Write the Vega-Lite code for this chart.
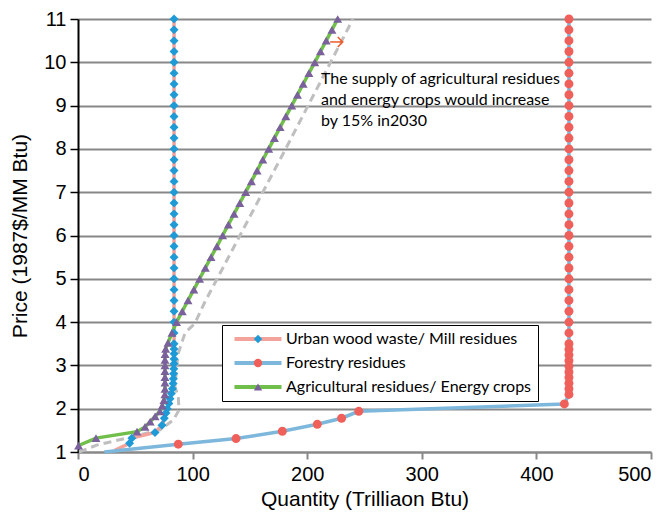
{
  "$schema": "https://vega.github.io/schema/vega-lite/v6.json",
  "width": 573,
  "height": 433,
  "autosize": {"type": "none"},
  "padding": {"left": 78, "top": 19, "right": 18, "bottom": 66},
  "background": "white",
  "config": {"view": {"stroke": null}},
  "datasets": {
    "curves": [
      {"series": "Urban wood waste/ Mill residues", "q": 32, "p": 1.04},
      {"series": "Urban wood waste/ Mill residues", "q": 45, "p": 1.2},
      {"series": "Urban wood waste/ Mill residues", "q": 47, "p": 1.32},
      {"series": "Urban wood waste/ Mill residues", "q": 67.2, "p": 1.45},
      {"series": "Urban wood waste/ Mill residues", "q": 73.3, "p": 1.62},
      {"series": "Urban wood waste/ Mill residues", "q": 75.3, "p": 1.78},
      {"series": "Urban wood waste/ Mill residues", "q": 76.8, "p": 1.9},
      {"series": "Urban wood waste/ Mill residues", "q": 77.8, "p": 2.0},
      {"series": "Urban wood waste/ Mill residues", "q": 79.3, "p": 2.12},
      {"series": "Urban wood waste/ Mill residues", "q": 80.3, "p": 2.23},
      {"series": "Urban wood waste/ Mill residues", "q": 81.5, "p": 2.35},
      {"series": "Urban wood waste/ Mill residues", "q": 82.4, "p": 2.46},
      {"series": "Urban wood waste/ Mill residues", "q": 83, "p": 2.58},
      {"series": "Urban wood waste/ Mill residues", "q": 83.2, "p": 2.69},
      {"series": "Urban wood waste/ Mill residues", "q": 83.4, "p": 2.81},
      {"series": "Urban wood waste/ Mill residues", "q": 83.6, "p": 2.92},
      {"series": "Urban wood waste/ Mill residues", "q": 83.8, "p": 3.04},
      {"series": "Urban wood waste/ Mill residues", "q": 83.8, "p": 3.15},
      {"series": "Urban wood waste/ Mill residues", "q": 83.8, "p": 3.27},
      {"series": "Urban wood waste/ Mill residues", "q": 83.8, "p": 3.38},
      {"series": "Urban wood waste/ Mill residues", "q": 83.8, "p": 3.5},
      {"series": "Urban wood waste/ Mill residues", "q": 83.8, "p": 3.75},
      {"series": "Urban wood waste/ Mill residues", "q": 83.8, "p": 4.0},
      {"series": "Urban wood waste/ Mill residues", "q": 83.8, "p": 4.25},
      {"series": "Urban wood waste/ Mill residues", "q": 83.8, "p": 4.5},
      {"series": "Urban wood waste/ Mill residues", "q": 83.8, "p": 4.75},
      {"series": "Urban wood waste/ Mill residues", "q": 83.8, "p": 5.0},
      {"series": "Urban wood waste/ Mill residues", "q": 83.8, "p": 5.25},
      {"series": "Urban wood waste/ Mill residues", "q": 83.8, "p": 5.5},
      {"series": "Urban wood waste/ Mill residues", "q": 83.8, "p": 5.75},
      {"series": "Urban wood waste/ Mill residues", "q": 83.8, "p": 6.0},
      {"series": "Urban wood waste/ Mill residues", "q": 83.8, "p": 6.25},
      {"series": "Urban wood waste/ Mill residues", "q": 83.8, "p": 6.5},
      {"series": "Urban wood waste/ Mill residues", "q": 83.8, "p": 6.75},
      {"series": "Urban wood waste/ Mill residues", "q": 83.8, "p": 7.0},
      {"series": "Urban wood waste/ Mill residues", "q": 83.8, "p": 7.25},
      {"series": "Urban wood waste/ Mill residues", "q": 83.8, "p": 7.5},
      {"series": "Urban wood waste/ Mill residues", "q": 83.8, "p": 7.75},
      {"series": "Urban wood waste/ Mill residues", "q": 83.8, "p": 8.0},
      {"series": "Urban wood waste/ Mill residues", "q": 83.8, "p": 8.25},
      {"series": "Urban wood waste/ Mill residues", "q": 83.8, "p": 8.5},
      {"series": "Urban wood waste/ Mill residues", "q": 83.8, "p": 8.75},
      {"series": "Urban wood waste/ Mill residues", "q": 83.8, "p": 9.0},
      {"series": "Urban wood waste/ Mill residues", "q": 83.8, "p": 9.25},
      {"series": "Urban wood waste/ Mill residues", "q": 83.8, "p": 9.5},
      {"series": "Urban wood waste/ Mill residues", "q": 83.8, "p": 9.75},
      {"series": "Urban wood waste/ Mill residues", "q": 83.8, "p": 10.0},
      {"series": "Urban wood waste/ Mill residues", "q": 83.8, "p": 10.25},
      {"series": "Urban wood waste/ Mill residues", "q": 83.8, "p": 10.5},
      {"series": "Urban wood waste/ Mill residues", "q": 83.8, "p": 10.75},
      {"series": "Urban wood waste/ Mill residues", "q": 83.8, "p": 11.0},

      {"series": "Forestry residues", "q": 23, "p": 1.0},
      {"series": "Forestry residues", "q": 87.5, "p": 1.18},
      {"series": "Forestry residues", "q": 137.9, "p": 1.31},
      {"series": "Forestry residues", "q": 178.3, "p": 1.48},
      {"series": "Forestry residues", "q": 208.8, "p": 1.64},
      {"series": "Forestry residues", "q": 230, "p": 1.78},
      {"series": "Forestry residues", "q": 245, "p": 1.94},
      {"series": "Forestry residues", "q": 424.4, "p": 2.11},
      {"series": "Forestry residues", "q": 428.4, "p": 2.33},
      {"series": "Forestry residues", "q": 428.4, "p": 2.46},
      {"series": "Forestry residues", "q": 428.4, "p": 2.59},
      {"series": "Forestry residues", "q": 428.4, "p": 2.72},
      {"series": "Forestry residues", "q": 428.4, "p": 2.85},
      {"series": "Forestry residues", "q": 428.4, "p": 2.98},
      {"series": "Forestry residues", "q": 428.4, "p": 3.11},
      {"series": "Forestry residues", "q": 428.4, "p": 3.24},
      {"series": "Forestry residues", "q": 428.4, "p": 3.37},
      {"series": "Forestry residues", "q": 428.4, "p": 3.5},
      {"series": "Forestry residues", "q": 428.4, "p": 3.75},
      {"series": "Forestry residues", "q": 428.4, "p": 4.0},
      {"series": "Forestry residues", "q": 428.4, "p": 4.25},
      {"series": "Forestry residues", "q": 428.4, "p": 4.5},
      {"series": "Forestry residues", "q": 428.4, "p": 4.75},
      {"series": "Forestry residues", "q": 428.4, "p": 5.0},
      {"series": "Forestry residues", "q": 428.4, "p": 5.25},
      {"series": "Forestry residues", "q": 428.4, "p": 5.5},
      {"series": "Forestry residues", "q": 428.4, "p": 5.75},
      {"series": "Forestry residues", "q": 428.4, "p": 6.0},
      {"series": "Forestry residues", "q": 428.4, "p": 6.25},
      {"series": "Forestry residues", "q": 428.4, "p": 6.5},
      {"series": "Forestry residues", "q": 428.4, "p": 6.75},
      {"series": "Forestry residues", "q": 428.4, "p": 7.0},
      {"series": "Forestry residues", "q": 428.4, "p": 7.25},
      {"series": "Forestry residues", "q": 428.4, "p": 7.5},
      {"series": "Forestry residues", "q": 428.4, "p": 7.75},
      {"series": "Forestry residues", "q": 428.4, "p": 8.0},
      {"series": "Forestry residues", "q": 428.4, "p": 8.25},
      {"series": "Forestry residues", "q": 428.4, "p": 8.5},
      {"series": "Forestry residues", "q": 428.4, "p": 8.75},
      {"series": "Forestry residues", "q": 428.4, "p": 9.0},
      {"series": "Forestry residues", "q": 428.4, "p": 9.25},
      {"series": "Forestry residues", "q": 428.4, "p": 9.5},
      {"series": "Forestry residues", "q": 428.4, "p": 9.75},
      {"series": "Forestry residues", "q": 428.4, "p": 10.0},
      {"series": "Forestry residues", "q": 428.4, "p": 10.25},
      {"series": "Forestry residues", "q": 428.4, "p": 10.5},
      {"series": "Forestry residues", "q": 428.4, "p": 10.75},
      {"series": "Forestry residues", "q": 428.4, "p": 11.0},

      {"series": "Agricultural residues/ Energy crops", "q": 0.5, "p": 1.15},
      {"series": "Agricultural residues/ Energy crops", "q": 15.7, "p": 1.32},
      {"series": "Agricultural residues/ Energy crops", "q": 51.5, "p": 1.47},
      {"series": "Agricultural residues/ Energy crops", "q": 58.5, "p": 1.58},
      {"series": "Agricultural residues/ Energy crops", "q": 63, "p": 1.7},
      {"series": "Agricultural residues/ Energy crops", "q": 67.3, "p": 1.82},
      {"series": "Agricultural residues/ Energy crops", "q": 71.5, "p": 1.94},
      {"series": "Agricultural residues/ Energy crops", "q": 73.5, "p": 2.07},
      {"series": "Agricultural residues/ Energy crops", "q": 75, "p": 2.2},
      {"series": "Agricultural residues/ Energy crops", "q": 75.8, "p": 2.33},
      {"series": "Agricultural residues/ Energy crops", "q": 75.9, "p": 2.46},
      {"series": "Agricultural residues/ Energy crops", "q": 75.9, "p": 2.6},
      {"series": "Agricultural residues/ Energy crops", "q": 75.9, "p": 2.73},
      {"series": "Agricultural residues/ Energy crops", "q": 75.9, "p": 2.87},
      {"series": "Agricultural residues/ Energy crops", "q": 75.9, "p": 3.0},
      {"series": "Agricultural residues/ Energy crops", "q": 75.9, "p": 3.13},
      {"series": "Agricultural residues/ Energy crops", "q": 76, "p": 3.26},
      {"series": "Agricultural residues/ Energy crops", "q": 76.5, "p": 3.38},
      {"series": "Agricultural residues/ Energy crops", "q": 78.5, "p": 3.52},
      {"series": "Agricultural residues/ Energy crops", "q": 82, "p": 3.75},
      {"series": "Agricultural residues/ Energy crops", "q": 86, "p": 4.0},
      {"series": "Agricultural residues/ Energy crops", "q": 91, "p": 4.25},
      {"series": "Agricultural residues/ Energy crops", "q": 96, "p": 4.5},
      {"series": "Agricultural residues/ Energy crops", "q": 101.1, "p": 4.75},
      {"series": "Agricultural residues/ Energy crops", "q": 106.1, "p": 5.0},
      {"series": "Agricultural residues/ Energy crops", "q": 111.1, "p": 5.25},
      {"series": "Agricultural residues/ Energy crops", "q": 116.1, "p": 5.5},
      {"series": "Agricultural residues/ Energy crops", "q": 121.2, "p": 5.75},
      {"series": "Agricultural residues/ Energy crops", "q": 126.2, "p": 6.0},
      {"series": "Agricultural residues/ Energy crops", "q": 131.2, "p": 6.25},
      {"series": "Agricultural residues/ Energy crops", "q": 136.2, "p": 6.5},
      {"series": "Agricultural residues/ Energy crops", "q": 141.2, "p": 6.75},
      {"series": "Agricultural residues/ Energy crops", "q": 146.3, "p": 7.0},
      {"series": "Agricultural residues/ Energy crops", "q": 151.3, "p": 7.25},
      {"series": "Agricultural residues/ Energy crops", "q": 156.3, "p": 7.5},
      {"series": "Agricultural residues/ Energy crops", "q": 161.3, "p": 7.75},
      {"series": "Agricultural residues/ Energy crops", "q": 166.4, "p": 8.0},
      {"series": "Agricultural residues/ Energy crops", "q": 171.4, "p": 8.25},
      {"series": "Agricultural residues/ Energy crops", "q": 176.4, "p": 8.5},
      {"series": "Agricultural residues/ Energy crops", "q": 181.4, "p": 8.75},
      {"series": "Agricultural residues/ Energy crops", "q": 186.5, "p": 9.0},
      {"series": "Agricultural residues/ Energy crops", "q": 191.5, "p": 9.25},
      {"series": "Agricultural residues/ Energy crops", "q": 196.5, "p": 9.5},
      {"series": "Agricultural residues/ Energy crops", "q": 201.5, "p": 9.75},
      {"series": "Agricultural residues/ Energy crops", "q": 206.6, "p": 10.0},
      {"series": "Agricultural residues/ Energy crops", "q": 211.6, "p": 10.25},
      {"series": "Agricultural residues/ Energy crops", "q": 216.6, "p": 10.5},
      {"series": "Agricultural residues/ Energy crops", "q": 221.6, "p": 10.75},
      {"series": "Agricultural residues/ Energy crops", "q": 226.6, "p": 11.0}
    ],
    "projection2030": [
      {"q": 0.9, "p": 1.0},
      {"q": 16.3, "p": 1.16},
      {"q": 42.5, "p": 1.32},
      {"q": 71.6, "p": 1.51},
      {"q": 83.2, "p": 1.74},
      {"q": 88.1, "p": 1.97},
      {"q": 87.5, "p": 2.28},
      {"q": 84.6, "p": 2.51},
      {"q": 86.1, "p": 2.97},
      {"q": 87.5, "p": 3.28},
      {"q": 93.4, "p": 3.75},
      {"q": 102, "p": 3.97},
      {"q": 110.8, "p": 4.47},
      {"q": 180.6, "p": 7.97},
      {"q": 240, "p": 11.0}
    ],
    "arrow": [{"q": 220, "q2": 231, "p": 10.47}],
    "note": [{"q": 212, "p": 9.5, "label": "The supply of agricultural residues\nand energy crops would increase\nby 15% in2030"}]
  },
  "layer": [
    {
      "data": {"name": "projection2030"},
      "mark": {"type": "line", "color": "#BFBFBF", "strokeWidth": 3, "strokeDash": [8, 5]},
      "encoding": {
        "x": {
          "field": "q", "type": "quantitative",
          "scale": {"domain": [0, 500], "nice": false, "zero": false},
          "axis": {
            "title": "Quantity (Trilliaon Btu)",
            "values": [0, 100, 200, 300, 400, 500],
            "grid": false,
            "domainColor": "#888888", "domainWidth": 2,
            "tickColor": "#888888", "tickWidth": 2, "tickSize": 7,
            "labelFont": "Liberation Sans", "labelFontSize": 20, "labelColor": "black", "labelPadding": 5,
            "titleFont": "Liberation Sans", "titleFontSize": 21, "titleFontWeight": "normal", "titleColor": "black", "titlePadding": 4
          }
        },
        "y": {
          "field": "p", "type": "quantitative",
          "scale": {"domain": [1, 11], "nice": false, "zero": false},
          "axis": {
            "title": "Price (1987$/MM Btu)",
            "values": [1, 2, 3, 4, 5, 6, 7, 8, 9, 10, 11],
            "grid": true, "gridColor": "#888888", "gridWidth": 2,
            "domainColor": "black", "domainWidth": 2,
            "tickColor": "black", "tickWidth": 1.5, "tickSize": 8,
            "labelFont": "Liberation Sans", "labelFontSize": 20, "labelColor": "black", "labelPadding": 4,
            "titleFont": "Liberation Sans", "titleFontSize": 21, "titleFontWeight": "normal", "titleColor": "black", "titlePadding": 13
          }
        },
        "order": {"field": "p", "type": "quantitative"}
      }
    },
    {
      "mark": {"type": "rule", "color": "black", "strokeWidth": 2},
      "encoding": {"y": {"datum": 11, "type": "quantitative"}}
    },
    {
      "data": {"name": "curves"},
      "mark": {"type": "line", "strokeWidth": 3.5},
      "encoding": {
        "x": {"field": "q", "type": "quantitative"},
        "y": {"field": "p", "type": "quantitative"},
        "order": {"field": "p", "type": "quantitative"},
        "stroke": {
          "field": "series", "type": "nominal",
          "scale": {
            "domain": ["Urban wood waste/ Mill residues", "Forestry residues", "Agricultural residues/ Energy crops"],
            "range": ["#F4A39C", "#7DB8DC", "#70BF4A"]
          },
          "legend": {
            "title": null, "orient": "none", "legendX": 144, "legendY": 306,
            "symbolType": "M-5.62,0H5.62", "symbolSize": 70, "symbolStrokeWidth": 4,
            "symbolOffset": 22, "labelOffset": 20, "padding": 6, "rowPadding": 8,
            "labelFont": "Lato", "labelFontSize": 16, "labelColor": "black", "labelLimit": 0,
            "strokeColor": "black", "fillColor": "white", "zindex": 1
          }
        }
      }
    },
    {
      "data": {"name": "curves"},
      "transform": [{"filter": "datum.p >= 1.1"}],
      "mark": {"type": "point", "filled": true, "opacity": 1, "size": 80},
      "encoding": {
        "x": {"field": "q", "type": "quantitative"},
        "y": {"field": "p", "type": "quantitative"},
        "fill": {
          "field": "series", "type": "nominal", "sort": "descending",
          "scale": {"range": ["#1E9AD6", "#F0605A", "#7B619B"]},
          "legend": {
            "title": null, "orient": "none", "legendX": 144, "legendY": 306,
            "symbolSize": 70, "symbolStrokeWidth": 0, "symbolOpacity": 1,
            "symbolOffset": 22, "labelOffset": 20, "padding": 6, "rowPadding": 8,
            "labelFont": "Lato", "labelFontSize": 16, "labelExpr": "''",
            "zindex": 2
          }
        },
        "shape": {
          "field": "series", "type": "nominal", "sort": "descending",
          "scale": {"range": ["diamond", "circle", "triangle-up"]}
        }
      }
    },
    {
      "data": {"name": "arrow"},
      "mark": {"type": "rule", "color": "#F05A28", "strokeWidth": 1.5},
      "encoding": {
        "x": {"field": "q", "type": "quantitative"},
        "x2": {"field": "q2"},
        "y": {"field": "p", "type": "quantitative"}
      }
    },
    {
      "data": {"name": "arrow"},
      "mark": {"type": "point", "shape": "M-1,-1L0,0L-1,1", "filled": false, "size": 100, "color": "#F05A28", "strokeWidth": 1.5, "opacity": 1},
      "encoding": {
        "x": {"field": "q2", "type": "quantitative"},
        "y": {"field": "p", "type": "quantitative"}
      }
    },
    {
      "data": {"name": "note"},
      "mark": {"type": "text", "align": "left", "baseline": "alphabetic", "lineBreak": "\n", "lineHeight": 21, "font": "Lato", "fontSize": 16, "color": "black"},
      "encoding": {
        "x": {"field": "q", "type": "quantitative"},
        "y": {"field": "p", "type": "quantitative"},
        "text": {"field": "label"}
      }
    }
  ]
}
